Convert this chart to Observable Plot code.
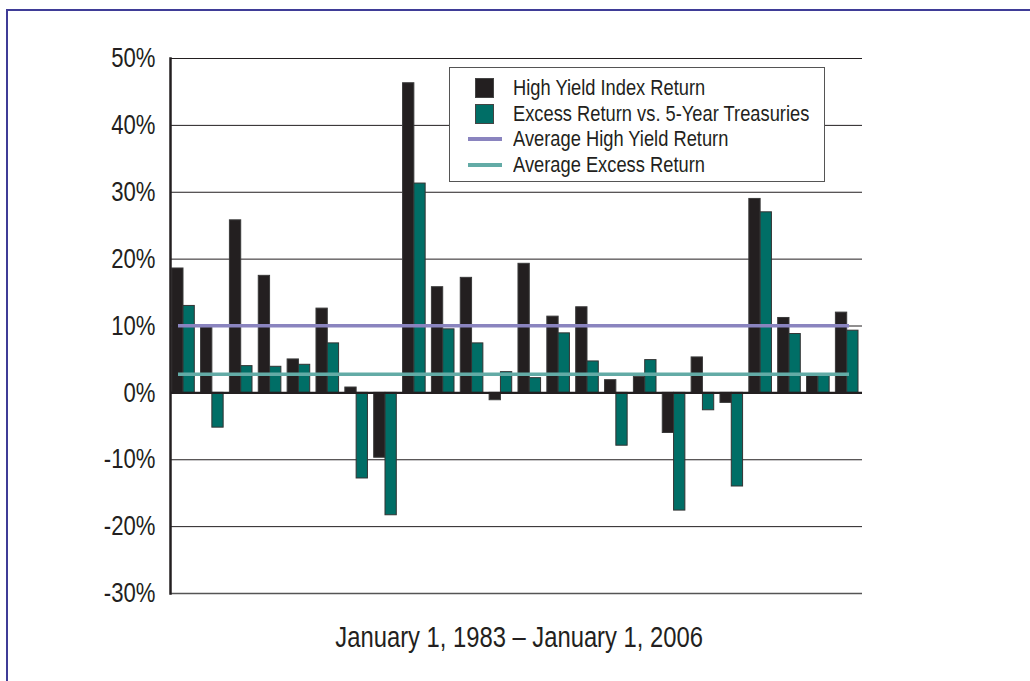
<!DOCTYPE html>
<html>
<head>
<meta charset="utf-8">
<script src="https://cdn.jsdelivr.net/npm/d3@7"></script>
<script src="https://cdn.jsdelivr.net/npm/@observablehq/plot@0.6"></script>
<style>
  html, body { margin: 0; padding: 0; background: #fff; }
  body { width: 1030px; height: 681px; overflow: hidden; position: relative;
         font-family: "Liberation Sans", Arial, sans-serif; color: #231f20; }
  #frame { position: absolute; left: 6px; top: 9px; width: 1100px; height: 800px;
           border-top: 2px solid #3f3c97; border-left: 2px solid #3f3c97; }
  #chart { position: absolute; left: 0; top: 0; }
  #legend { position: absolute; left: 449px; top: 67px; width: 376px; height: 115px;
            border: 1.5px solid #555; background: #fff; box-sizing: border-box; }
  .item { position: absolute; left: 0; height: 26px; width: 370px; }
  .item span.t { position: absolute; left: 63px; top: 0; font-size: 22.6px; line-height: 26px; white-space: nowrap;
                 transform: scaleX(0.81); transform-origin: 0 50%; }
  .sw { position: absolute; left: 25px; top: 3px; width: 19px; height: 20px; border: 1px solid #444; box-sizing: border-box; }
  .ln { position: absolute; left: 18px; top: 11px; width: 34px; height: 4px; }
  #caption { position: absolute; left: 170px; width: 698px; top: 621px; text-align: center; font-size: 29px; white-space: nowrap; }
  #caption span { display: inline-block; transform: scaleX(0.82); transform-origin: 50% 50%; }
</style>
</head>
<body>
<div id="frame"></div>
<div id="chart"></div>
<div id="legend"></div>
<div id="caption"><span>January 1, 1983 – January 1, 2006</span></div>
<script>
// ---- data ----
const years = [1983,1984,1985,1986,1987,1988,1989,1990,1991,1992,1993,1994,1995,1996,1997,1998,1999,2000,2001,2002,2003,2004,2005,2006];
const highYieldReturn = [18.6, 9.8, 25.8, 17.5, 5.0, 12.6, 0.8, -9.7, 46.3, 15.8, 17.2, -1.1, 19.3, 11.4, 12.8, 1.9, 2.4, -6.0, 5.3, -1.5, 29.0, 11.2, 2.6, 12.0];
const excessReturn    = [13.0, -5.2, 4.0, 3.9, 4.2, 7.4, -12.8, -18.3, 31.3, 9.5, 7.4, 3.1, 2.2, 8.9, 4.7, -7.9, 4.9, -17.6, -2.6, -14.0, 27.0, 8.8, 2.6, 9.3];
const avgHighYield = 10.05;
const avgExcess = 2.8;
const yTicks = [-30, -20, -10, 0, 10, 20, 30, 40, 50];
const seriesNames = ["High Yield Index Return", "Excess Return vs. 5-Year Treasuries", "Average High Yield Return", "Average Excess Return"];

const colors = { hy: "#231f20", ex: "#006e66", avgHy: "#8a84bf", avgEx: "#63aba6", grid: "#231f20" };

const rows = years.map((y, i) => ({ year: y, hy: highYieldReturn[i], ex: excessReturn[i] }));
const half = 11.3; // half band width in px (bar split inset)

const chart = Plot.plot({
  width: 1030,
  height: 620,
  marginLeft: 170,
  marginRight: 168,
  marginTop: 58,
  marginBottom: 27,
  style: { fontFamily: '"Liberation Sans", Arial, sans-serif', fontSize: "27px", color: "#231f20", background: "transparent" },
  x: { type: "band", domain: years, range: [171.7, 858], paddingInner: 0.217, paddingOuter: 0, round: false, axis: null },
  y: { domain: [-30, 50], ticks: yTicks, tickFormat: d => d + "%" },
  marks: [
    Plot.gridY(yTicks.filter(t => t !== 0 && t !== -30), { stroke: colors.grid, strokeOpacity: 1, strokeWidth: 1 }),
    Plot.ruleY([-30], { stroke: "#555", strokeWidth: 1.5 }),
    Plot.barY(rows, { x: "year", y: "hy", fill: colors.hy, stroke: "#3a3a3a", strokeWidth: 1, insetRight: half }),
    Plot.barY(rows, { x: "year", y: "ex", fill: colors.ex, stroke: "#333", strokeWidth: 1, insetLeft: half }),
    Plot.ruleY([0], { stroke: colors.grid, strokeWidth: 2.2 }),
    Plot.ruleY([avgHighYield], { x1: years[0], x2: years[years.length - 1], stroke: colors.avgHy, strokeWidth: 3.5, insetLeft: 6.3, insetRight: 9 }),
    Plot.ruleY([avgExcess], { x1: years[0], x2: years[years.length - 1], stroke: colors.avgEx, strokeWidth: 3.5, insetLeft: 6.3, insetRight: 9 }),
    Plot.axisY({ ticks: yTicks, tickSize: 0, tickPadding: 15, tickFormat: d => d + "%", label: null, fontSize: 27 }),
    Plot.frame({ anchor: "left", stroke: colors.grid, strokeWidth: 2.5 })
  ]
});
// condensed look: squeeze tick labels horizontally around their anchor
d3.select(chart).selectAll("text").each(function () {
  const t = this.getAttribute("transform") || "";
  this.setAttribute("transform", (t + " scale(0.82,1)").trim());
});
document.getElementById("chart").appendChild(chart);

// ---- legend (HTML overlay inside the plot area) ----
const legend = document.getElementById("legend");
const legendItems = [
  { name: seriesNames[0], kind: "sw", color: colors.hy },
  { name: seriesNames[1], kind: "sw", color: colors.ex },
  { name: seriesNames[2], kind: "ln", color: colors.avgHy },
  { name: seriesNames[3], kind: "ln", color: colors.avgEx }
];
legendItems.forEach((it, i) => {
  const d = document.createElement("div");
  d.className = "item";
  d.style.top = (7 + i * 25.5) + "px";
  const m = document.createElement("div");
  m.className = it.kind;
  m.style.background = it.color;
  d.appendChild(m);
  const t = document.createElement("span");
  t.className = "t";
  t.textContent = it.name;
  d.appendChild(t);
  legend.appendChild(d);
});
</script>
</body>
</html>
